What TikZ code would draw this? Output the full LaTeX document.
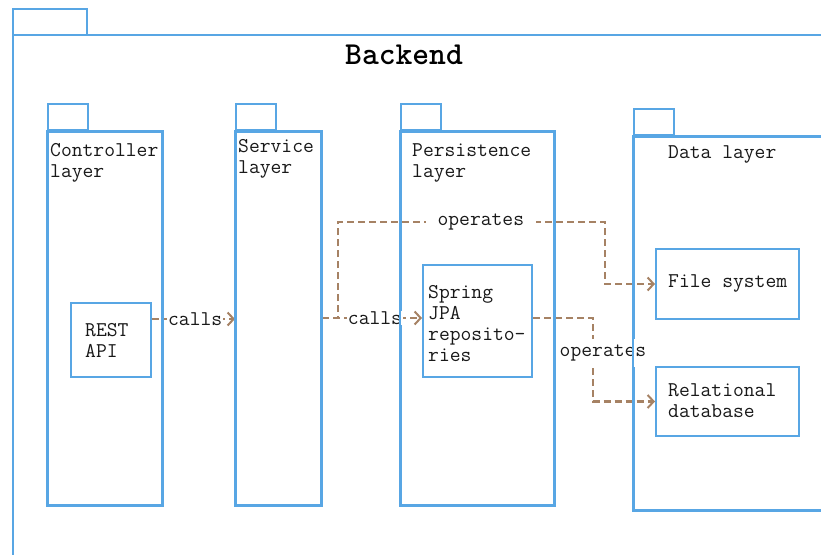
\documentclass[tikz,border=0pt]{standalone}
\usepackage{fontspec}
\usetikzlibrary{arrows.meta,calc}
\definecolor{pkgblue}{RGB}{88,166,228}
\definecolor{linkbrown}{RGB}{166,130,100}
\tikzset{
  mono/.style={font=\ttfamily\fontsize{21}{21}\selectfont, text=black!90},
  pkg/.style={draw=pkgblue, line width=2pt, inner sep=0pt, anchor=north west},
  pkgtab/.style={draw=pkgblue, line width=2pt, inner sep=0pt, anchor=south west,
    minimum width=40pt, minimum height=26pt},
  comp/.style={draw=pkgblue, line width=2pt, inner sep=0pt, anchor=north west, fill=white},
  caption/.style={mono, anchor=west, align=left, inner sep=0pt},
  conn/.style={draw=linkbrown, line width=2.2pt, dash pattern=on 7pt off 4pt,
    -{Straight Barb[length=6pt,width=13pt,line width=2pt]}},
  lbl/.style={mono, fill=white, inner sep=1pt}
}
\begin{document}
\begin{tikzpicture}[x=1pt,y=-1pt]
\useasboundingbox (0,0) rectangle (821,554);
\fill[white] (0,0) rectangle (821,554);

% outer Backend package (continues past the visible area)
\begin{scope}
  \clip (0,0) rectangle (821,554);
  \draw[pkgblue, line width=2pt] (13,9) rectangle (87,35);
  \draw[pkgblue, line width=2pt] (13,35) rectangle (840,580);
\end{scope}
\node[font=\ttfamily\bfseries\fontsize{32}{32}\selectfont] (backend) at (404,55) {Backend};

% layer packages
\node[pkg, minimum width=114pt, minimum height=373pt] (ctrl) at (47,131) {};
\node[pkgtab] (ctrltab) at (ctrl.north west) {};
\node[pkg, minimum width=85pt, minimum height=373pt] (service) at (235,131) {};
\node[pkgtab] (servicetab) at (service.north west) {};
\node[pkg, minimum width=153pt, minimum height=373pt] (persist) at (400,131) {};
\node[pkgtab] (persisttab) at (persist.north west) {};
\node[pkg, minimum width=190pt, minimum height=373pt] (data) at (633,136) {};
\node[pkgtab] (datatab) at (data.north west) {};

% layer captions
\node[caption] (ctrlname) at (50,163) {Controller\\layer};
\node[caption] (servicename) at (238,159) {Service\\layer};
\node[caption] (persistname) at (412,163) {Persistence\\layer};
\node[caption] (dataname) at (668,154) {Data layer};

% components
\node[comp, minimum width=80pt, minimum height=74pt] (rest) at (70,302) {};
\node[caption] (restname) at (85,340) {REST\\API};
\node[comp, minimum width=109pt, minimum height=112pt] (spring) at (422,264) {};
\node[caption] (springname) at (428,324) {Spring\\JPA\\reposito-\\ries};
\node[comp, minimum width=143pt, minimum height=70pt] (files) at (655,248) {};
\node[caption] (filesname) at (668,283) {File system};
\node[comp, minimum width=143pt, minimum height=69pt] (rdb) at (655,366) {};
\node[caption] (rdbname) at (668,401) {Relational\\database};

% routing points
\coordinate (rowA) at (0,319);
\coordinate (rowB) at (0,318);
\coordinate (bendA) at (338,318);
\coordinate (bendB) at (338,222);
\coordinate (bendC) at (605,222);
\coordinate (bendD) at (593,318);

% connectors
\draw[conn] (rest.east |- rowA) -- node[lbl, pos=0.52] (calls1) {calls} (service.west |- rowA);
\draw[conn] (service.east |- rowB) -- (bendA) -- (bendB)
  -- node[lbl, pos=0.535, inner xsep=12pt] (ops1) {operates} (bendC) |- (files.west);
\draw[conn] (service.east |- rowB) -- node[lbl, pos=0.53] (calls2) {calls} (spring.west |- rowB);
\draw[conn] (spring.east |- rowB) -- (bendD) |- (rdb.west);
\node[lbl, inner ysep=6pt] (ops2) at (603,353) {operates};

% package outlines stay on top of the link labels
\draw[pkgblue, line width=2pt] (ctrl.north west) rectangle (ctrl.south east);
\draw[pkgblue, line width=2pt] (service.north west) rectangle (service.south east);
\draw[pkgblue, line width=2pt] (persist.north west) rectangle (persist.south east);
\draw[pkgblue, line width=2pt] (data.north west) rectangle (data.south east);
\end{tikzpicture}
\end{document}
